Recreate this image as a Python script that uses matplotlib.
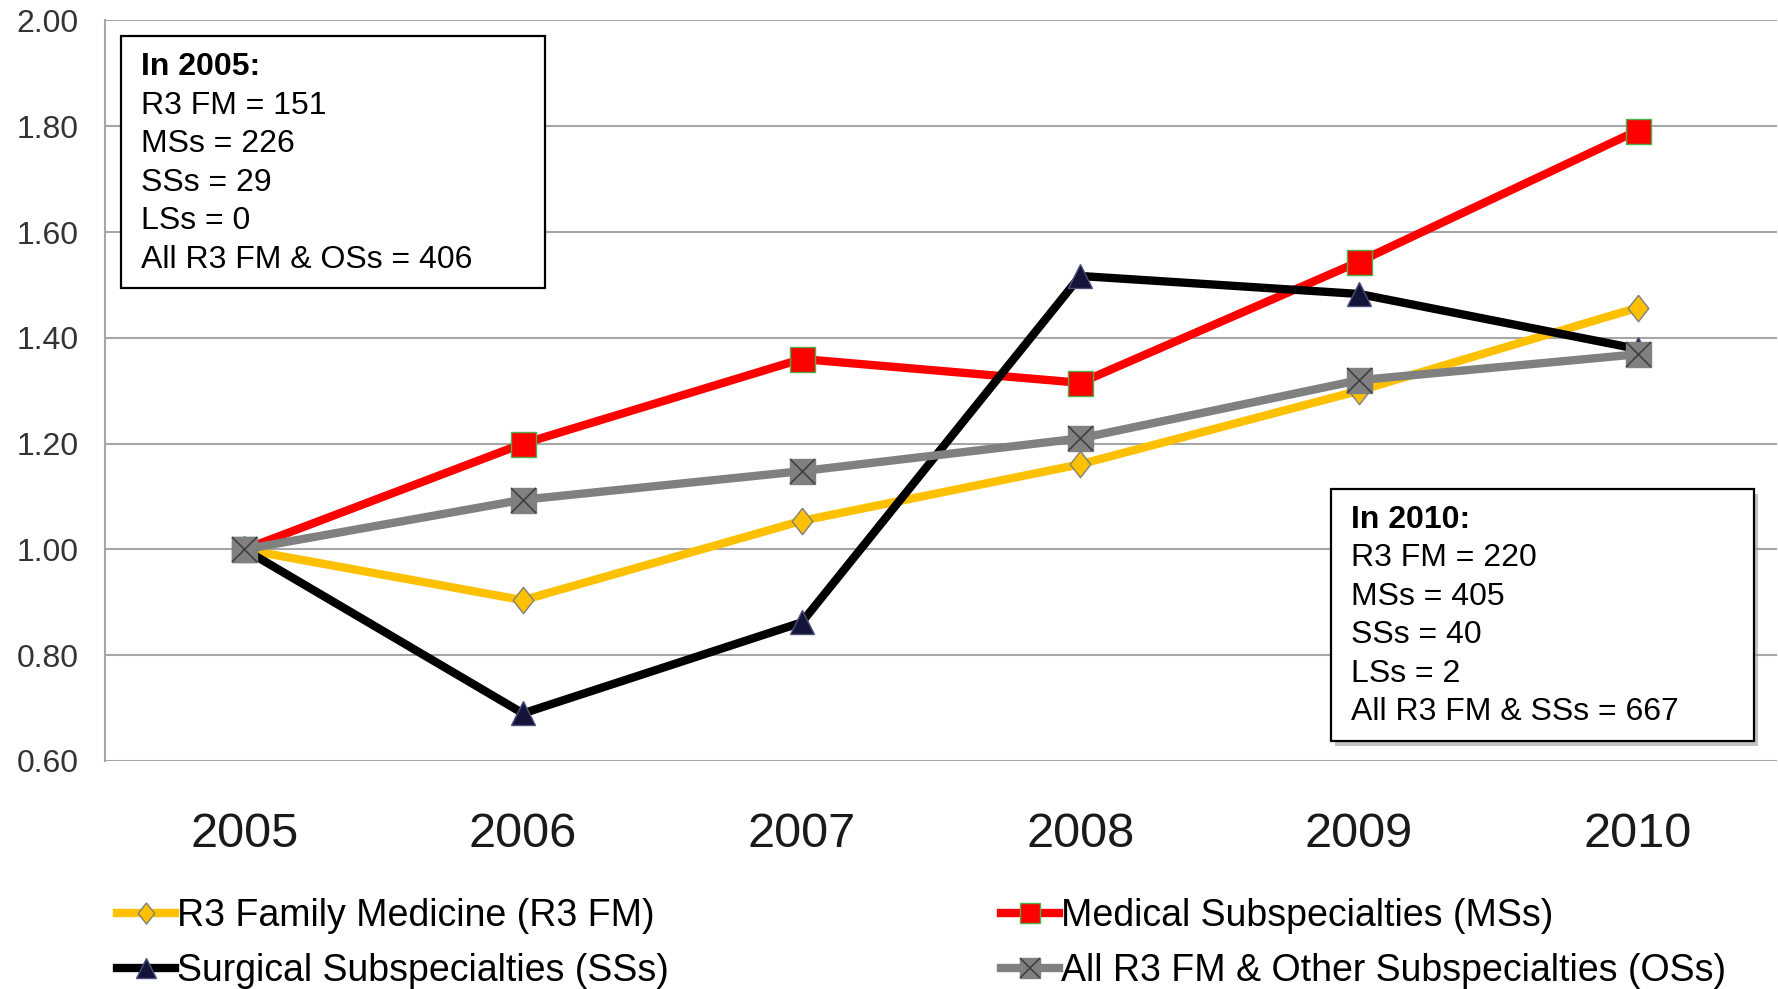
import matplotlib
matplotlib.use("Agg")
import matplotlib.pyplot as plt
from matplotlib.patches import Rectangle

plt.rcParams['font.family'] = ['Liberation Sans', 'DejaVu Sans']

years = ["2005", "2006", "2007", "2008", "2009", "2010"]
fm_vals = [1.00, 0.904, 1.054, 1.161, 1.300, 1.457]
ms_vals = [1.00, 1.200, 1.360, 1.315, 1.544, 1.792]
ss_vals = [1.00, 0.690, 0.862, 1.517, 1.483, 1.379]
all_vals = [1.00, 1.094, 1.148, 1.210, 1.320, 1.369]
y_ticks = [0.60, 0.80, 1.00, 1.20, 1.40, 1.60, 1.80, 2.00]

labels = ["R3 Family Medicine (R3 FM)", "Medical Subspecialties (MSs)",
          "Surgical Subspecialties (SSs)", "All R3 FM & Other Subspecialties (OSs)"]

box2005 = ["In 2005:", "R3 FM = 151", "MSs = 226", "SSs = 29", "LSs = 0", "All R3 FM & OSs = 406"]
box2010 = ["In 2010:", "R3 FM = 220", "MSs = 405", "SSs = 40", "LSs = 2", "All R3 FM & SSs = 667"]

W, H = 1778, 989
fig = plt.figure(figsize=(W / 100, H / 100), dpi=100)
ax = fig.add_axes([105 / W, 1 - 761 / H, (1777 - 105) / W, (761 - 20.5) / H])

x = list(range(len(years)))
diamond = [(0, 1), (0.78, 0), (0, -1), (-0.78, 0), (0, 1)]

l_fm, = ax.plot(x, fm_vals, color='#FFC000', lw=6, marker=diamond, ms=19,
                mfc='#FFC000', mec='#7F7F7F', mew=1.0, zorder=3)
l_ms, = ax.plot(x, ms_vals, color='#FF0000', lw=6, marker='s', ms=18,
                mfc='#FF0000', mec='#4CAF50', mew=1.0, zorder=4)
l_ss, = ax.plot(x, ss_vals, color='#000000', lw=6, marker='^', ms=17.5,
                mfc='#14143A', mec='#50507A', mew=1.0, zorder=5)
l_all, = ax.plot(x, all_vals, color='#808080', lw=6, marker='s', ms=18,
                 mfc='#808080', mec='#808080', mew=1.0, zorder=6)
l_allx, = ax.plot(x, all_vals, ls='none', marker='x', ms=18, mec='#404040', mew=1.2, zorder=7)

ax.set_xlim(-0.5, len(years) - 0.5)
ax.set_ylim(0.60, 2.00)
ax.set_yticks(y_ticks)
ax.set_yticklabels([f"{v:.2f}" for v in y_ticks], fontsize=23, color='#333333')
ax.set_xticks(x)
ax.set_xticklabels(years, fontsize=35, color='#1a1a1a')
ax.tick_params(axis='y', length=0, pad=19)
ax.tick_params(axis='x', length=0, pad=37)
ax.grid(axis='y', color='#A6A6A6', lw=1.5, zorder=0)
for s in ['top', 'right', 'bottom']:
    ax.spines[s].set_visible(False)
ax.spines['left'].set_color('#A6A6A6')
ax.spines['left'].set_linewidth(1.5)

# text boxes
def draw_box(x0, y0, x1, y1, lines, tx, ty0, dy, shadow=False):
    if shadow:
        fig.add_artist(Rectangle((x0 / W + 4 / W, 1 - y1 / H - 5 / H), (x1 - x0) / W, (y1 - y0) / H,
                                 transform=fig.transFigure, facecolor='#9a9a9a', edgecolor='none',
                                 alpha=0.6, zorder=9))
    fig.add_artist(Rectangle((x0 / W, 1 - y1 / H), (x1 - x0) / W, (y1 - y0) / H,
                             transform=fig.transFigure, facecolor='white', edgecolor='black',
                             lw=1.6, zorder=10))
    for i, t in enumerate(lines):
        fig.text(tx / W, 1 - (ty0 + i * dy) / H, t, fontsize=23,
                 fontweight='bold' if i == 0 else 'normal',
                 ha='left', va='center', color='black', zorder=11)

draw_box(121, 36, 545, 288, box2005, 141, 67, 38.6)
draw_box(1331, 489, 1754, 741, box2010, 1351, 520, 38.4, shadow=True)

fig.legend([l_fm, l_ss, l_ms, (l_all, l_allx)], [labels[0], labels[2], labels[1], labels[3]],
           ncol=2, loc='upper left', bbox_to_anchor=(117 / W, 1 - 898 / H),
           frameon=False, fontsize=27, handlelength=1.55, handletextpad=0.05,
           columnspacing=8.85, labelspacing=0.5, borderpad=0, borderaxespad=0,
           markerscale=0.8)

fig.savefig("out.png", dpi=100)
